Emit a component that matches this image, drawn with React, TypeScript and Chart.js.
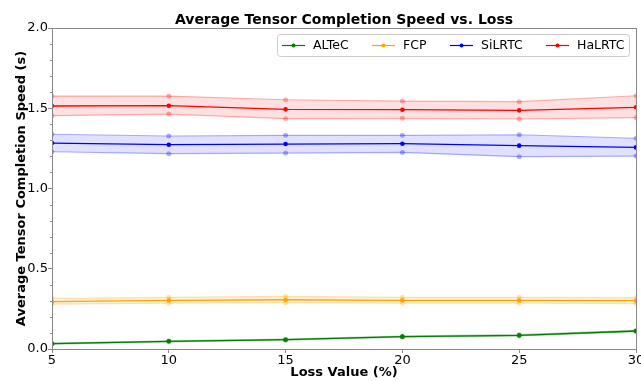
import React, { useEffect, useRef } from "react";
import { Chart, registerables } from "chart.js";

Chart.register(...registerables);

const losses = [5, 10, 15, 20, 25, 30];
const seriesNames = ["ALTeC", "FCP", "SiLRTC", "HaLRTC"];
const seriesColors = ["#008000", "#FFA500", "#0000FF", "#FF0000"];
const bandColors = ["rgba(0,128,0,0.15)", "rgba(255,165,0,0.15)", "rgba(0,0,255,0.12)", "rgba(255,0,0,0.12)"];
const edgeColors = ["rgba(0,128,0,0.35)", "rgba(255,165,0,0.3)", "rgba(0,0,255,0.3)", "rgba(255,0,0,0.3)"];

const altecMean = [0.033, 0.048, 0.058, 0.077, 0.085, 0.112];
const altecUpper = [0.036, 0.051, 0.061, 0.08, 0.089, 0.116];
const altecLower = [0.03, 0.045, 0.055, 0.074, 0.081, 0.108];
const fcpMean = [0.295, 0.303, 0.307, 0.303, 0.303, 0.301];
const fcpUpper = [0.315, 0.322, 0.328, 0.322, 0.322, 0.32];
const fcpLower = [0.279, 0.285, 0.288, 0.285, 0.285, 0.283];
const silrtcMean = [1.283, 1.273, 1.277, 1.279, 1.267, 1.256];
const silrtcUpper = [1.338, 1.327, 1.331, 1.331, 1.335, 1.313];
const silrtcLower = [1.229, 1.217, 1.221, 1.225, 1.198, 1.202];
const halrtcMean = [1.514, 1.516, 1.493, 1.491, 1.487, 1.506];
const halrtcUpper = [1.576, 1.576, 1.553, 1.545, 1.541, 1.578];
const halrtcLower = [1.454, 1.464, 1.435, 1.437, 1.433, 1.441];

const yTicks = [0, 0.5, 1.0, 1.5, 2.0];
const yMinorTicks = [0.1, 0.2, 0.3, 0.4, 0.6, 0.7, 0.8, 0.9, 1.1, 1.2, 1.3, 1.4, 1.6, 1.7, 1.8, 1.9];

const means = [altecMean, fcpMean, silrtcMean, halrtcMean];
const uppers = [altecUpper, fcpUpper, silrtcUpper, halrtcUpper];
const lowers = [altecLower, fcpLower, silrtcLower, halrtcLower];

const FONT = "'DejaVu Sans', sans-serif";

const overlayPlugin = {
  id: "overlay",
  afterDraw(chart: any) {
    const ctx = chart.ctx;
    const a = chart.chartArea;
    const ys = chart.scales.y;
    ctx.save();
    // frame
    ctx.strokeStyle = "#888";
    ctx.lineWidth = 1;
    ctx.strokeRect(a.left + 0.5, a.top + 0.5, a.right - a.left, a.bottom - a.top);
    // minor ticks
    ctx.beginPath();
    yMinorTicks.forEach((v) => {
      const py = Math.round(ys.getPixelForValue(v)) + 0.5;
      ctx.moveTo(a.left - 2, py);
      ctx.lineTo(a.left, py);
    });
    ctx.stroke();
    // title
    ctx.fillStyle = "#000";
    ctx.font = `bold 14px ${FONT}`;
    ctx.textAlign = "center";
    ctx.textBaseline = "alphabetic";
    ctx.fillText("Average Tensor Completion Speed vs. Loss", (a.left + a.right) / 2, 24);
    // x title
    ctx.font = `bold 13px ${FONT}`;
    ctx.fillText("Loss Value (%)", (a.left + a.right) / 2, 376);
    // y title
    ctx.save();
    ctx.translate(25, (a.top + a.bottom) / 2);
    ctx.rotate(-Math.PI / 2);
    ctx.fillText("Average Tensor Completion Speed (s)", 0, 0);
    ctx.restore();
    // legend
    const bx = 277, by = 34, bw = 352, bh = 22;
    ctx.fillStyle = "rgba(255,255,255,0.85)";
    ctx.strokeStyle = "#ccc";
    ctx.lineWidth = 1;
    ctx.beginPath();
    if (ctx.roundRect) ctx.roundRect(bx + 0.5, by + 0.5, bw, bh, 3);
    else ctx.rect(bx + 0.5, by + 0.5, bw, bh);
    ctx.fill();
    ctx.stroke();
    const lineStarts = [282, 372, 450, 546];
    const cy = by + bh / 2 + 0.5;
    ctx.font = `12.5px ${FONT}`;
    ctx.textAlign = "left";
    ctx.textBaseline = "middle";
    seriesNames.forEach((n, i) => {
      const x0 = lineStarts[i];
      ctx.strokeStyle = seriesColors[i];
      ctx.lineWidth = 1.2;
      ctx.beginPath();
      ctx.moveTo(x0, cy);
      ctx.lineTo(x0 + 23, cy);
      ctx.stroke();
      ctx.fillStyle = seriesColors[i];
      ctx.beginPath();
      ctx.arc(x0 + 11.5, cy, 2, 0, Math.PI * 2);
      ctx.fill();
      ctx.fillStyle = "#000";
      ctx.fillText(n, x0 + 31, cy + 0.5);
    });
    ctx.restore();
  },
};

export default function App() {
  const ref = useRef<HTMLCanvasElement | null>(null);
  useEffect(() => {
    document.body.style.margin = "0";
    if (!ref.current) return;
    const datasets: any[] = [];
    for (let i = 0; i < 4; i++) {
      datasets.push({
        label: seriesNames[i] + " upper",
        data: losses.map((x, j) => ({ x, y: uppers[i][j] })),
        borderColor: edgeColors[i],
        backgroundColor: edgeColors[i],
        borderWidth: 1.2,
        pointRadius: 2.5,
        pointBorderWidth: 0,
        pointBackgroundColor: edgeColors[i],
        fill: false,
        tension: 0,
      });
      datasets.push({
        label: seriesNames[i] + " lower",
        data: losses.map((x, j) => ({ x, y: lowers[i][j] })),
        borderColor: edgeColors[i],
        backgroundColor: bandColors[i],
        borderWidth: 1.2,
        pointRadius: 2.5,
        pointBorderWidth: 0,
        pointBackgroundColor: edgeColors[i],
        fill: "-1",
        tension: 0,
      });
    }
    for (let i = 0; i < 4; i++) {
      datasets.push({
        label: seriesNames[i],
        data: losses.map((x, j) => ({ x, y: means[i][j] })),
        borderColor: seriesColors[i],
        backgroundColor: seriesColors[i],
        borderWidth: 1.3,
        pointRadius: 2.3,
        pointBorderWidth: 0,
        pointBackgroundColor: seriesColors[i],
        fill: false,
        tension: 0,
      });
    }
    const chart = new Chart(ref.current, {
      type: "line",
      data: { datasets },
      options: {
        responsive: false,
        animation: false,
        layout: { padding: { left: 0, right: 24, top: 28, bottom: 0 } },
        plugins: { legend: { display: false }, tooltip: { enabled: false }, title: { display: false } },
        scales: {
          x: {
            type: "linear",
            min: 5,
            max: 30,
            afterFit: (s: any) => { s.height = 32; },
            afterBuildTicks: (s: any) => { s.ticks = losses.map((v) => ({ value: v })); },
            ticks: { color: "#000", font: { family: FONT, size: 13 }, padding: 0, maxRotation: 0, callback: (v: any) => String(v) },
            grid: { display: true, drawOnChartArea: false, drawTicks: true, tickLength: 4, color: "#888" },
            border: { color: "#888" },
          },
          y: {
            type: "linear",
            min: 0,
            max: 2,
            afterFit: (s: any) => { s.width = 52; },
            afterBuildTicks: (s: any) => { s.ticks = yTicks.map((v) => ({ value: v })); },
            ticks: { color: "#000", font: { family: FONT, size: 13 }, padding: 0, callback: (v: any) => Number(v).toFixed(1) },
            grid: { display: true, drawOnChartArea: false, drawTicks: true, tickLength: 4, color: "#888" },
            border: { color: "#888" },
          },
        },
      },
      plugins: [overlayPlugin],
    });
    return () => chart.destroy();
  }, []);
  return (
    <div style={{ width: 641, height: 381, overflow: "hidden", background: "#fff" }}>
      <canvas ref={ref} width={660} height={381} style={{ display: "block" }} />
    </div>
  );
}
